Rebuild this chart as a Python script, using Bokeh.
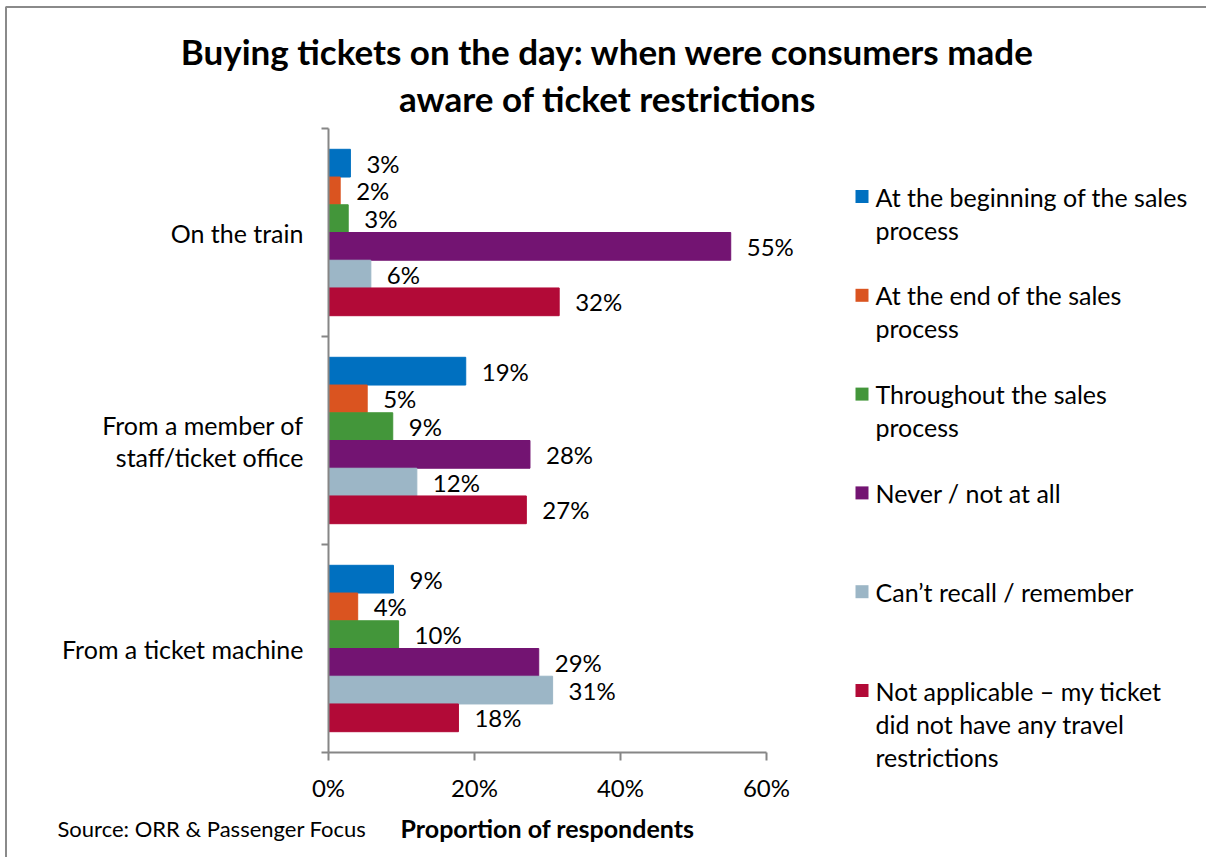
from bokeh.plotting import figure
from bokeh.models import Range1d, FixedTicker, PrintfTickFormatter, CustomJSTickFormatter, ColumnDataSource
from bokeh.core.properties import value
from bokeh.embed import file_html
from bokeh.resources import INLINE

# ---------------- data ----------------
categories = ["From a ticket machine", "From a member of staff/ticket office", "On the train"]  # bottom -> top
category_lines = [["From a ticket machine"], ["From a member of", "staff/ticket office"], ["On the train"]]
series = [
    "At the beginning of the sales process",
    "At the end of the sales process",
    "Throughout the sales process",
    "Never / not at all",
    "Can\u2019t recall / remember",
    "Not applicable \u2013 my ticket did not have any travel restrictions",
]
legend_lines = [
    ["At the beginning of the sales", "process"],
    ["At the end of the sales", "process"],
    ["Throughout the sales", "process"],
    ["Never / not at all"],
    ["Can\u2019t recall / remember"],
    ["Not applicable \u2013 my ticket", "did not have any travel", "restrictions"],
]
colors = ["#0070C0", "#DA5420", "#43963A", "#731472", "#9CB6C6", "#B20A37"]
# values per series, ordered as categories (machine, staff, train)
beginning = [8.9, 18.8, 3.0]
end_proc = [4.0, 5.3, 1.6]
throughout = [9.6, 8.8, 2.7]
never = [28.8, 27.6, 55.1]
cant_recall = [30.7, 12.1, 5.8]
not_applicable = [17.8, 27.1, 31.6]
values = [beginning, end_proc, throughout, never, cant_recall, not_applicable]
x_ticks = [0, 20, 40, 60]
title_lines = ["Buying tickets on the day: when were consumers made", "aware of ticket restrictions"]
x_title = "Proportion of respondents"
source_text = "Source: ORR & Passenger Focus"

# ---------------- layout (page pixels) ----------------
W, H = 1206, 857
X0, Y0 = 328, 752          # pixel position of data origin
XS = 7.3                   # px per percent
YS = 208.0                 # px per category band
FONT = "Lato"

def dx(px):
    return (px - X0) / XS

def dy(py):
    return (Y0 - py) / YS

p = figure(width=W, height=H, output_backend="svg", toolbar_location=None,
           x_range=Range1d(dx(0), dx(W)), y_range=Range1d(dy(H), dy(0)),
           min_border=0)
p.outline_line_color = None
p.grid.visible = False
p.background_fill_color = "white"
p.border_fill_color = "white"

# chart border (top and left edge of the chart area)
p.line(x=[dx(5.5), dx(5.5), dx(W)], y=[dy(H), dy(6.5), dy(6.5)], line_color="#8a8a8a", line_width=2)

h = 1 / 7.5
for s, (name, col, vals) in enumerate(zip(series, colors, values)):
    off = (2.5 - s) * h
    ys = [i + 0.5 + off for i in range(len(categories))]
    src = ColumnDataSource(dict(y=ys, right=vals, lab=["%d%%" % round(v) for v in vals]))
    p.hbar(y="y", left=0, right="right", height=h, source=src, fill_color=col,
           line_color=col, line_width=1)
    p.text(x="right", y="y", text="lab", source=src, x_offset=16, text_baseline="middle",
           text_align="left", text_font=value(FONT), text_font_size=value("24px"), text_color="black")

ax_col = "#868686"
xa = p.xaxis[0]
xa.fixed_location = 0
xa.bounds = (0, 60)
xa.ticker = FixedTicker(ticks=x_ticks)
xa.formatter = PrintfTickFormatter(format="%d%%")
xa.axis_line_color = ax_col
xa.axis_line_width = 2
xa.major_tick_line_color = ax_col
xa.major_tick_line_width = 2
xa.major_tick_in = 0
xa.major_tick_out = 8
xa.minor_tick_line_color = None
xa.major_label_text_font = FONT
xa.major_label_text_font_size = "24px"
xa.major_label_text_color = "black"
xa.major_label_standoff = 12
xa.axis_label = x_title
xa.axis_label_text_font = FONT
xa.axis_label_text_font_style = "bold"
xa.axis_label_text_font_size = "25px"
xa.axis_label_text_color = "black"
xa.axis_label_standoff = 8

ya = p.yaxis[0]
ya.fixed_location = 0
ya.bounds = (0, 3)
ya.ticker = FixedTicker(ticks=[0, 1, 2, 3])
ya.formatter = CustomJSTickFormatter(code="return ''")
ya.axis_line_color = ax_col
ya.axis_line_width = 2
ya.major_tick_line_color = ax_col
ya.major_tick_line_width = 2
ya.major_tick_in = 0
ya.major_tick_out = 7
ya.minor_tick_line_color = None

def txt(lines, xs, ys, size="24px", align="left", bold=False):
    p.text(x=xs, y=ys, text=lines, text_font=value(FONT), text_font_size=value(size),
           text_align=align, text_baseline="middle", text_color="black",
           text_font_style="bold" if bold else "normal")

# title
txt(title_lines, [dx(607)] * 2, [dy(50), dy(97)], "35px", "center", True)

# category labels
cl_text, cl_x, cl_y = [], [], []
for i, lines in enumerate(category_lines):
    n = len(lines)
    for k, t in enumerate(lines):
        cl_text.append(t)
        cl_x.append(dx(303))
        cl_y.append(i + 0.5 - (k - (n - 1) / 2) * 32 / YS)
txt(cl_text, cl_x, cl_y, "25px", "right")

# legend
lg_text, lg_x, lg_y = [], [], []
sq_x, sq_y = [], []
for s, lines in enumerate(legend_lines):
    cy0 = 196 + s * 98.8
    sq_x.append(dx(861.5))
    sq_y.append(dy(cy0))
    for k, t in enumerate(lines):
        lg_text.append(t)
        lg_x.append(dx(875))
        lg_y.append(dy(cy0 + k * 33))
p.scatter(x=sq_x, y=sq_y, marker="square", size=13, fill_color=colors, line_color=None)
txt(lg_text, lg_x, lg_y, "25px", "left")

# source
txt([source_text], [dx(57)], [dy(828)], "22px", "left")

open("out.html", "w").write(file_html(p, INLINE))
